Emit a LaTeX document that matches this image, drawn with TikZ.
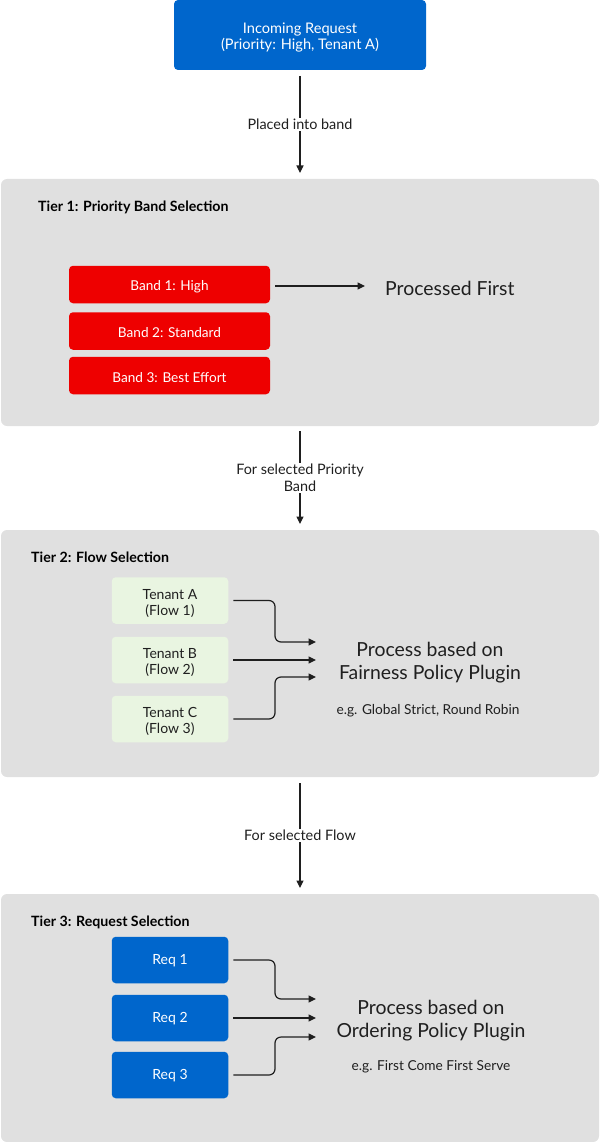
\documentclass[tikz,border=0pt]{standalone}
\usepackage{fontspec}
\setmainfont{Lato}
\usetikzlibrary{arrows.meta}
\definecolor{rhblue}{HTML}{0066CC}
\definecolor{rhred}{HTML}{EE0000}
\definecolor{tgreen}{HTML}{E9F5E1}
\definecolor{pgray}{HTML}{E0E0E0}
\definecolor{ink}{HTML}{1F1F1F}
\newcommand\lift[1]{\rule{0pt}{#1}}
\tikzset{
  panel/.style={fill=pgray, rounded corners=6pt, inner sep=0pt, outer sep=0pt, anchor=north west},
  box/.style={rounded corners=4pt, inner sep=0pt, outer sep=0pt, align=center, font=\fontsize{14}{16}\selectfont},
  bluebox/.style={box, fill=rhblue, text=white},
  redbox/.style={box, fill=rhred, text=white, minimum width=201pt, minimum height=37.5pt, font=\fontsize{13.6}{16}\selectfont},
  greenbox/.style={box, fill=tgreen, text=ink, minimum width=116.5pt, minimum height=46.5pt},
  reqbox/.style={bluebox, minimum width=116.5pt, minimum height=46.5pt},
  tiertitle/.style={anchor=west, inner sep=0pt, text=black, font=\bfseries\fontsize{14.2}{16}\selectfont},
  lbl/.style={fill=white, inner sep=1.5pt, align=center, text=ink, font=\fontsize{14.4}{17}\selectfont},
  arr/.style={draw=ink, line width=1.2pt, -{Triangle[length=7.5pt,width=7pt]}},
  bigtxt/.style={inner sep=0pt, align=center, text=ink, font=\fontsize{19.4}{22.5}\selectfont},
  smalltxt/.style={inner sep=0pt, align=center, text=ink, font=\fontsize{13.7}{15}\selectfont},
}
\begin{document}
\begin{tikzpicture}[x=1pt,y=-1pt]
\useasboundingbox (0,0) rectangle (600,1142);
% top request
\node[bluebox, minimum width=252pt, minimum height=70pt, font=\fontsize{14.6}{16}\selectfont] (inc) at (300,35) {\lift{15pt}Incoming Request\\(Priority: High, Tenant A)};
% panels
\node[panel, minimum width=598pt, minimum height=247pt] (t1) at (1,179) {};
\node[panel, minimum width=598pt, minimum height=247pt] (t2) at (1,530) {};
\node[panel, minimum width=598pt, minimum height=248pt] (t3) at (1,894) {};
% tier titles
\node[tiertitle] (t1t) at (38,207.5) {Tier 1: Priority Band Selection};
\node[tiertitle] (t2t) at (31,557.5) {Tier 2: Flow Selection};
\node[tiertitle] (t3t) at (31,922.5) {Tier 3: Request Selection};
% tier 1 bands
\node[redbox] (b1) at (169.5,284.5) {\lift{13.5pt}Band 1: High};
\node[redbox] (b2) at (169.5,331) {\lift{13.5pt}Band 2: Standard};
\node[redbox] (b3) at (169.5,375.5) {\lift{13.5pt}Band 3: Best Effort};
\node[bigtxt, anchor=west] (pf) at (385,288) {Processed First};
\coordinate (pfa) at (365,286);
\draw[arr] ([xshift=5pt]b1.east |- pfa) -- (pfa);
% tier 2 flows
\node[greenbox] (ta) at (170,600.5) {\lift{16pt}Tenant A\\(Flow 1)};
\node[greenbox] (tb) at (170,660) {\lift{16pt}Tenant B\\(Flow 2)};
\node[greenbox] (tc) at (170,719) {\lift{16pt}Tenant C\\(Flow 3)};
\coordinate (fa) at (316,642);
\coordinate (fb) at (316,660);
\coordinate (fc) at (316,677);
\draw[arr, rounded corners=6pt] ([xshift=5pt]ta.east) -| ([xshift=-41pt]fa) -- (fa);
\draw[arr] ([xshift=5pt]tb.east) -- (fb);
\draw[arr, rounded corners=6pt] ([xshift=5pt]tc.east) -| ([xshift=-41pt]fc) -- (fc);
\node[bigtxt] (p2) at (430,662.5) {Process based on\\Fairness Policy Plugin};
\node[smalltxt] (e2) at (428,711) {e.g. Global Strict, Round Robin};
% tier 3 requests
\node[reqbox] (r1) at (170,960) {\lift{12pt}Req 1};
\node[reqbox] (r2) at (170,1018) {\lift{12pt}Req 2};
\node[reqbox] (r3) at (170,1075) {\lift{12pt}Req 3};
\coordinate (ga) at (316,999);
\coordinate (gb) at (316,1018);
\coordinate (gc) at (316,1037);
\draw[arr, rounded corners=6pt] ([xshift=5pt]r1.east) -| ([xshift=-41pt]ga) -- (ga);
\draw[arr] ([xshift=5pt]r2.east) -- (gb);
\draw[arr, rounded corners=6pt] ([xshift=5pt]r3.east) -| ([xshift=-41pt]gc) -- (gc);
\node[bigtxt] (p3) at (431,1020.5) {Process based on\\Ordering Policy Plugin};
\node[smalltxt] (e3) at (431,1067) {e.g. First Come First Serve};
% vertical connectors
\draw[arr, shorten <=6pt, shorten >=6pt] (inc.south) -- node[lbl] {Placed into band} (t1.north -| inc.south);
\draw[arr, shorten <=5pt, shorten >=6pt] (t1.south) -- node[lbl] {For selected Priority\\Band} (t2.north);
\draw[arr, shorten <=6pt, shorten >=6pt] (t2.south) -- node[lbl] {For selected Flow} (t3.north);
\end{tikzpicture}
\end{document}
